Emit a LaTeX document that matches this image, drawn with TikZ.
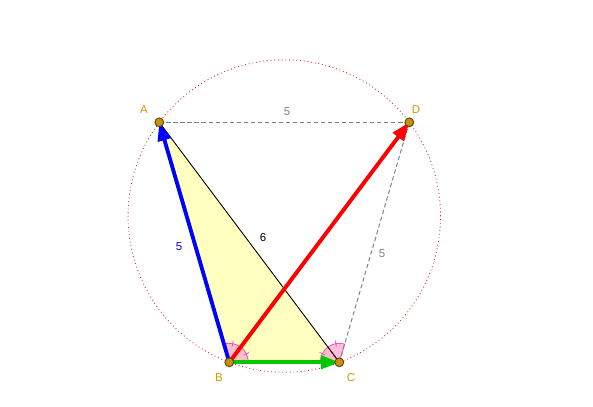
\documentclass[tikz,border=0pt]{standalone}
\usepackage{fontspec}
\setmainfont{Liberation Sans}
\usetikzlibrary{arrows.meta,calc}
\definecolor{ptfill}{RGB}{200,145,20}
\definecolor{ptdraw}{RGB}{90,65,0}
\definecolor{ptlabel}{RGB}{205,155,0}
\definecolor{trifill}{RGB}{255,255,192}
\definecolor{angfill}{RGB}{255,170,205}
\definecolor{angdraw}{RGB}{240,80,190}
\definecolor{vblue}{RGB}{0,0,255}
\definecolor{vgreen}{RGB}{0,200,0}
\definecolor{vred}{RGB}{255,0,0}
\definecolor{dgray}{RGB}{128,128,128}
\definecolor{circred}{RGB}{220,40,40}
\tikzset{
  pt/.style={circle,fill=ptfill,draw=ptdraw,line width=0.5pt,inner sep=0pt,minimum size=5pt},
  ptlab/.style={text=ptlabel,font=\fontsize{6.5}{8}\selectfont,inner sep=0pt},
  seglab/.style={font=\fontsize{6.5}{8}\selectfont,inner sep=0pt},
  vec/.style={line width=2.2pt,-{Triangle[length=10.5pt,width=7.5pt]},shorten >=0pt},
  dline/.style={dgray,line width=0.55pt,dash pattern=on 2.4pt off 1.6pt},
  angsec/.style={fill=angfill,fill opacity=0.75,draw=angdraw,line width=0.45pt},
  tick/.style={angdraw,line width=0.45pt}
}
\begin{document}
\begin{tikzpicture}
\useasboundingbox (-4.586,-0.894) rectangle (7.274,7.246);
\coordinate (B) at (0,0);
\coordinate (C) at (2.2,0);
\coordinate (A) at (-1.4,4.8);
\coordinate (D) at (3.6,4.8);
\coordinate (O) at (1.1,2.925);
% circumcircle
\draw[circred,line width=0.5pt,dash pattern=on 0.5pt off 1.6pt] (O) circle (3.125);
% triangle
\fill[trifill] (A) -- (B) -- (C) -- cycle;
% angle sectors
\def\ar{0.38}
\draw[angsec] (B) -- ++(0:\ar) arc (0:53.13:\ar) -- cycle;
\draw[angsec] (B) -- ++(53.13:\ar) arc (53.13:106.26:\ar) -- cycle;
\draw[angsec] (C) -- ++(73.74:\ar) arc (73.74:126.87:\ar) -- cycle;
\draw[angsec] (C) -- ++(126.87:\ar) arc (126.87:180:\ar) -- cycle;
\draw[tick] ($(B)+(26.57:0.32)$) -- ($(B)+(26.57:0.44)$);
\draw[tick] ($(B)+(79.7:0.32)$) -- ($(B)+(79.7:0.44)$);
\draw[tick] ($(C)+(100.3:0.32)$) -- ($(C)+(100.3:0.44)$);
\draw[tick] ($(C)+(153.43:0.32)$) -- ($(C)+(153.43:0.44)$);
% lines
\draw[dline] (A) -- (D);
\draw[dline] (D) -- (C);
\draw[black,line width=0.5pt] (A) -- (C);
% vectors
\draw[vec,vblue] (B) -- (A);
\draw[vec,vgreen] (B) -- (C);
\draw[vec,vred] (B) -- (D);
% points
\node[pt] (pA) at (A) {};
\node[pt] (pB) at (B) {};
\node[pt] (pC) at (C) {};
\node[pt] (pD) at (D) {};
% labels
\node[ptlab] (lA) at (-1.706,5.046) {A};
\node[ptlab] (lD) at (3.734,5.046) {D};
\node[ptlab] (lB) at (-0.206,-0.314) {B};
\node[ptlab] (lC) at (2.434,-0.314) {C};
\node[seglab,text=dgray] (lAD) at (1.154,5.006) {5};
\node[seglab,text=black] (lAC) at (0.674,2.486) {6};
\node[seglab,text=vblue] (lAB) at (-1.006,2.306) {5};
\node[seglab,text=dgray] (lDC) at (3.054,2.166) {5};
\end{tikzpicture}
\end{document}
